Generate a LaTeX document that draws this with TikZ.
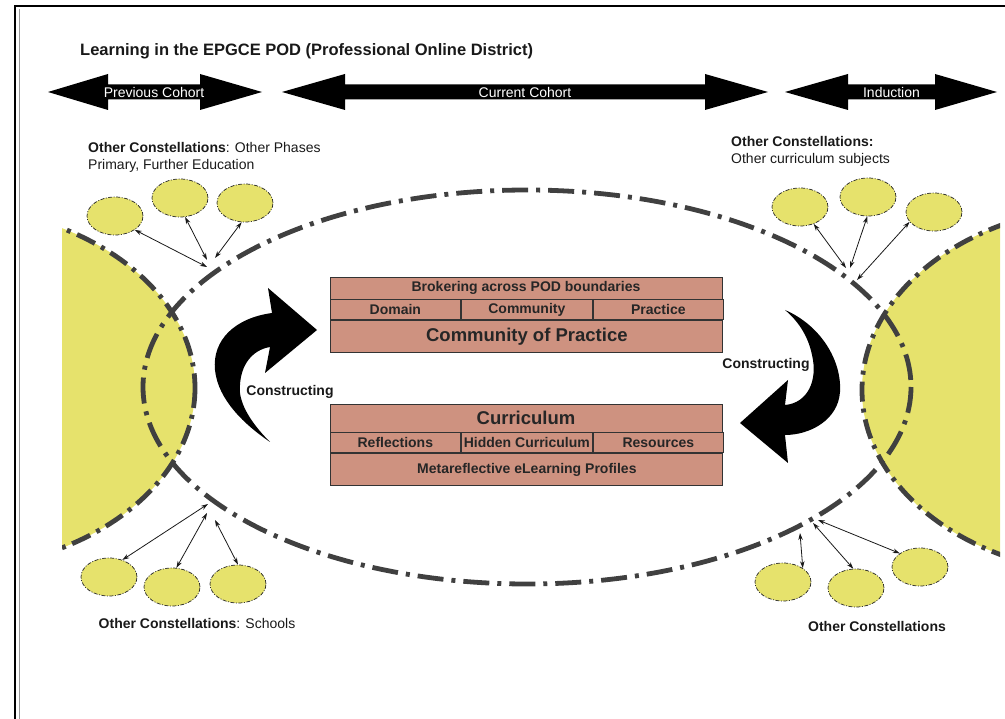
\documentclass[tikz,border=0pt]{standalone}
\usepackage{fontspec}
\setmainfont{Liberation Sans}
\usetikzlibrary{shapes.geometric, arrows.meta, positioning}
\definecolor{podbox}{RGB}{206,146,128}
\definecolor{podyellow}{RGB}{230,226,108}
\definecolor{poddash}{RGB}{64,64,64}
\begin{document}
\begin{tikzpicture}[x=1pt, y=-1pt,
  box/.style={draw=black!80, line width=0.8pt, fill=podbox, minimum width=392, minimum height=#1, inner sep=0, text=black!85, font=\fontsize{14}{16}\selectfont\bfseries},
  cell/.style={box=20, minimum width=130.7},
  big/.style={font=\fontsize{18.5}{20}\selectfont\bfseries},
  constel/.style={ellipse, draw=black!85, fill=podyellow, line width=0.7pt, dash pattern=on 4pt off 1.5pt on 1pt off 1.5pt, minimum width=56, minimum height=38, inner sep=0},
  link/.style={{Stealth[length=7pt,width=4.5pt]}-{Stealth[length=7pt,width=4.5pt]}, line width=0.8pt, black!90},
  lbl/.style={inner sep=0, text=black!90, font=\fontsize{14}{16}\selectfont},
  cohort/.style={inner sep=0, text=white, font=\fontsize{14}{15}\selectfont},
  bigdash/.style={poddash, line width=4.8pt, dash pattern=on 26pt off 8pt on 4pt off 8pt},
  halfdash/.style={poddash, line width=4.8pt, dash pattern=on 20pt off 7pt on 4pt off 7pt}]
  \useasboundingbox (0,0) rectangle (1005,719);

  % frame
  \draw[line width=2.2pt] (15,719) -- (15,6) -- (1005,6);
  \draw[black!40, line width=1pt] (19.5,719) -- (19.5,9);

  \node[anchor=base west, inner sep=0, text=black!90, font=\fontsize{16.5}{18}\selectfont\bfseries] (title) at (80,56) {Learning in the EPGCE POD (Professional Online District)};

  % cohort arrows
  \foreach \a/\b/\c/\d/\t/\n in {48/108/200/262/Previous Cohort/prev, 282/345/705/768/Current Cohort/curc, 785/848/935/997/Induction/ind}{
    \fill (\a,92) -- (\b,74) -- (\b,84.5) -- (\c,84.5) -- (\c,74) -- (\d,92) -- (\c,110) -- (\c,99.5) -- (\b,99.5) -- (\b,110) -- cycle;
    \node[cohort] (\n) at ({(\b+\c)/2},92) {\t};
  }

  % yellow half discs
  \begin{scope}
    \clip (62,0) rectangle (1000,719);
    \fill[podyellow] (-60,388) ellipse [x radius=255, y radius=182];
    \fill[podyellow] (1117,390) ellipse [x radius=255, y radius=185];
    \draw[halfdash] (-60,388) ellipse [x radius=255, y radius=182];
    \draw[halfdash] (1117,390) ellipse [x radius=255, y radius=185];
  \end{scope}

  \draw[bigdash] (527,387) ellipse [x radius=384, y radius=197];

  % constellations
  \foreach \n/\x/\y in {tl1/115/216, tl2/180/198, tl3/245/203, tr1/800/207, tr2/868/197, tr3/934/212,
                        bl1/109/577, bl2/172/587, bl3/238/584, br1/783/582, br2/856/588, br3/920/567}
    \node[constel] (\n) at (\x,\y) {};

  \foreach \n/\hx/\hy/\a in {tl1/207/267/-35, tl2/207/260/-75, tl3/215/258/-100,
                             tr1/846/268/-51, tr2/850/268/-92, tr3/857/280/-158,
                             bl1/208/504/52, bl2/207/513/77, bl3/215/520/90,
                             br1/800/533/35, br2/813/523/98, br3/818/520/146}{
    \coordinate (h\n) at (\hx,\hy);
    \draw[link] (h\n) -- (\n.\a);
  }

  \node[lbl, anchor=base west] (oc1a) at (88,153) {\textbf{Other Constellations}: Other Phases};
  \node[lbl, anchor=base west] (oc1b) at (88,170) {Primary, Further Education};
  \node[lbl, anchor=base west] (oc2a) at (731,147) {\textbf{Other Constellations:}};
  \node[lbl, anchor=base west] (oc2b) at (731,164) {Other curriculum subjects};
  \node[lbl, anchor=base] (oc3) at (197,628) {\textbf{Other Constellations}: Schools};
  \node[lbl, anchor=base] (oc4) at (877,631) {\textbf{Other Constellations}};

  % community of practice
  \node[box=22] (brok) at (526,288) {Brokering across POD boundaries};
  \node[cell, anchor=north west] (dom) at (brok.south west) {Domain};
  \node[cell, right=0 of dom] (comm) {Community};
  \node[cell, right=0 of comm] (prac) {Practice};
  \node[box=32, big, below=0 of comm] (cop) {Community of Practice};

  % curriculum
  \node[box=28, big] (curr) at (526,418) {Curriculum};
  \node[cell, anchor=north west] (refl) at (curr.south west) {Reflections};
  \node[cell, right=0 of refl] (hid) {Hidden Curriculum};
  \node[cell, right=0 of hid] (res) {Resources};
  \node[box=32, below=0 of hid] (meta) {Metareflective eLearning Profiles};

  % constructing arrows
  \fill (317,330) -- (268,288) -- (272,313) .. controls (235,318) and (212,340) .. (215,370)
    .. controls (218,400) and (245,425) .. (270,442) .. controls (248,420) and (238,400) .. (240,385)
    .. controls (241,365) and (252,350) .. (270,347) -- (265,373) -- cycle;
  \fill (785,310) .. controls (820,325) and (842,360) .. (840,392) .. controls (838,420) and (810,435) .. (785,435)
    -- (788,463) -- (740,423) -- (788,380) -- (785,405) .. controls (808,403) and (818,380) .. (812,355)
    .. controls (808,335) and (797,320) .. (785,310) -- cycle;
  \node[lbl, font=\fontsize{14}{16}\selectfont\bfseries] (cons1) at (290,392) {Constructing};
  \node[lbl, font=\fontsize{14}{16}\selectfont\bfseries] (cons2) at (766,365) {Constructing};
\end{tikzpicture}
\end{document}
